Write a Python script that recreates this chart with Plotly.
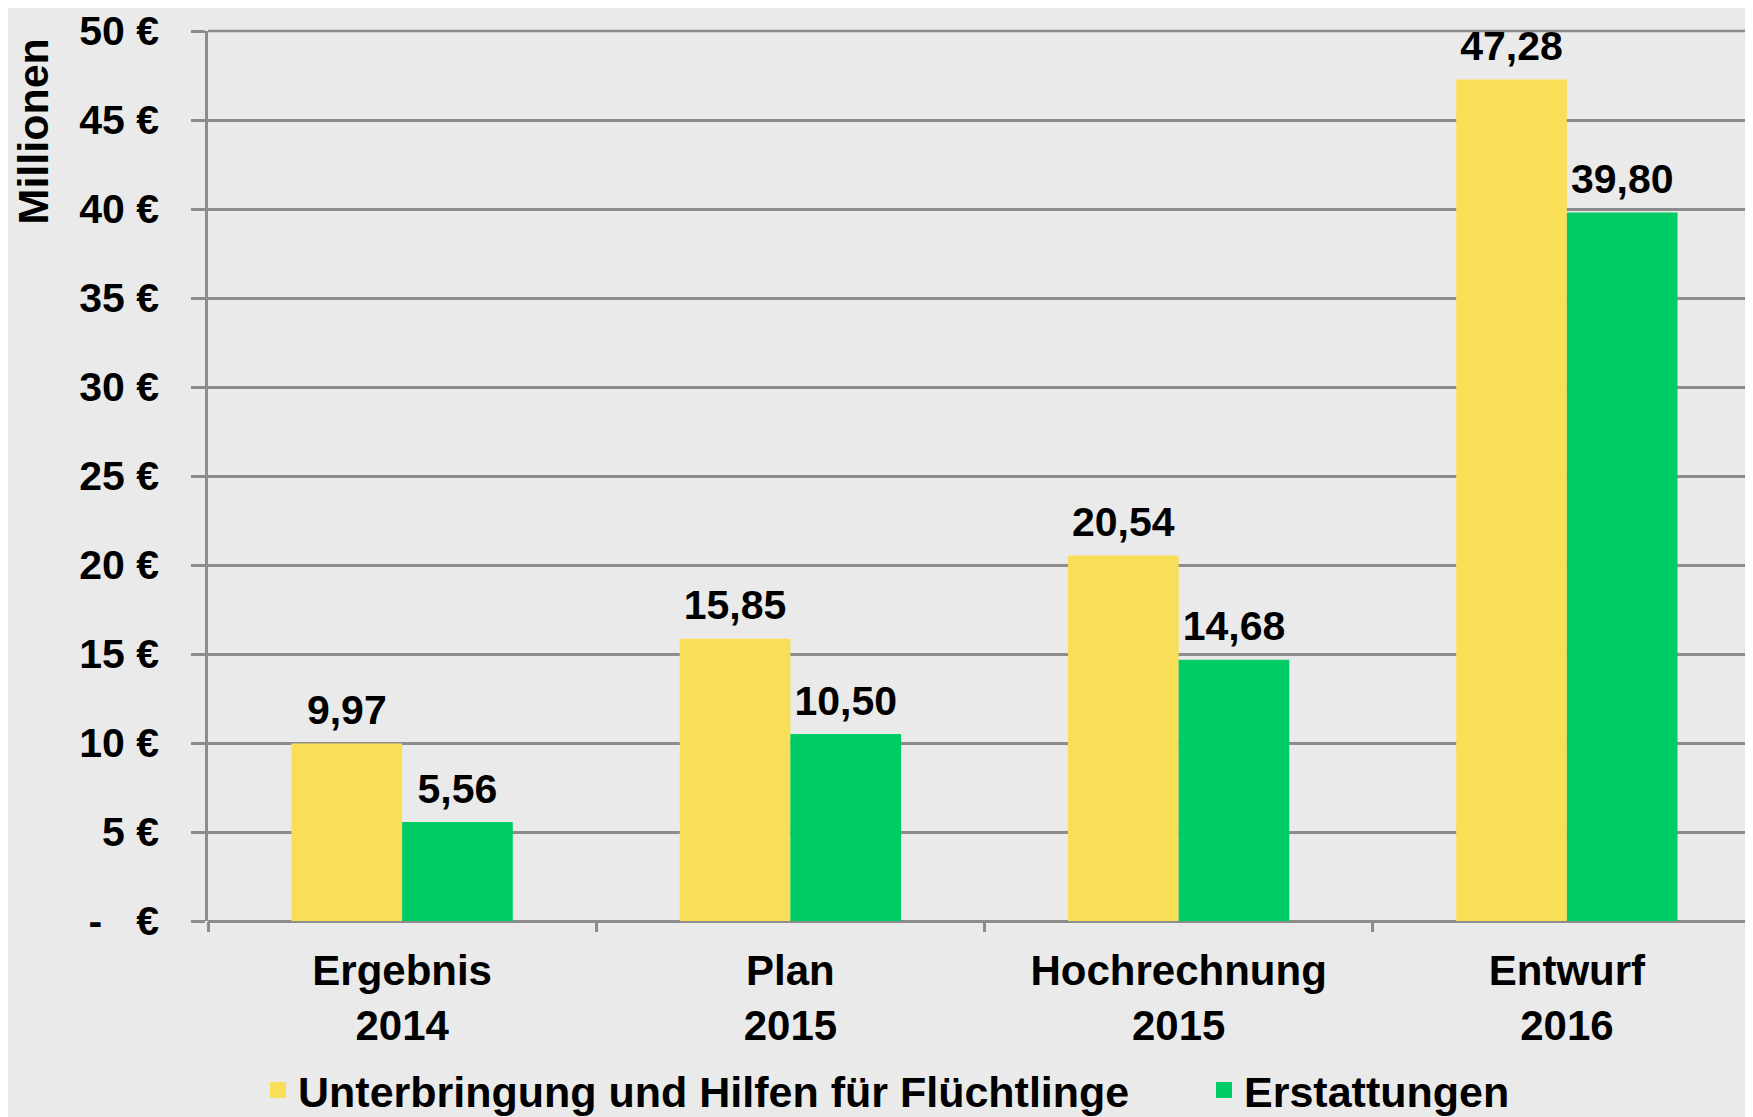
import plotly.graph_objects as go

categories = ["Ergebnis<br>2014", "Plan<br>2015", "Hochrechnung<br>2015", "Entwurf<br>2016"]
unterbringung = [9.97, 15.85, 20.54, 47.28]
erstattungen = [5.56, 10.50, 14.68, 39.80]
series_names = ["Unterbringung und Hilfen für Flüchtlinge", "Erstattungen"]
ytick_vals = [0, 5, 10, 15, 20, 25, 30, 35, 40, 45, 50]
ytick_text = ["-\u00a0\u00a0\u00a0€", "5 €", "10 €", "15 €", "20 €", "25 €", "30 €", "35 €", "40 €", "45 €", "50 €"]

YELLOW = "#F9DF57"
GREEN = "#00CC66"
GRID = "#8C8C8C"
BG = "#EAEAEA"
FONT = "Liberation Sans, Arial, sans-serif"

W, H = 1753, 1117
ML, MT, MB = 200, 20, 202
PW = W - ML
PH = H - MT - MB

fig = go.Figure()
series = [(series_names[0], unterbringung, YELLOW, "legend"),
          (series_names[1], erstattungen, GREEN, "legend2")]
for i, (name, vals, col, leg) in enumerate(series):
    fig.add_trace(go.Bar(
        x=categories, y=vals, name=name, marker=dict(color=col, line=dict(width=0)),
        offsetgroup=str(i), showlegend=False, hoverinfo="skip",
    ))
    fig.add_trace(go.Scatter(
        x=categories, y=vals, mode="markers+text", name=name,
        offsetgroup=str(i), texttemplate="%{y:.2f}", textposition="top center",
        marker=dict(size=13, color="rgba(0,0,0,0)"), cliponaxis=False,
        textfont=dict(family=FONT, size=41, color="black", weight="bold"),
        showlegend=False, hoverinfo="skip",
    ))
    fig.add_trace(go.Scatter(
        x=[None], y=[None], mode="markers", name=name, legend=leg,
        marker=dict(symbol="square", size=16, color=col), showlegend=True,
    ))

legend_common = dict(orientation="h", xanchor="left", y=-170 / PH, yanchor="middle",
                     font=dict(family=FONT, size=43, color="black", weight="bold"),
                     bgcolor="rgba(0,0,0,0)", itemclick=False, itemdoubleclick=False)

fig.update_layout(
    width=W, height=H,
    paper_bgcolor=BG, plot_bgcolor=BG,
    margin=dict(l=ML, r=0, t=MT, b=MB),
    separators=",.",
    barmode="group", bargap=0.43, bargroupgap=0,
    scattermode="group", scattergap=0.43,
    font=dict(family=FONT, size=40, color="black", weight="bold"),
    showlegend=True,
    legend=dict(x=50 / PW, **legend_common),
    legend2=dict(x=996 / PW, **legend_common),
    xaxis=dict(range=[-0.5, 3.5], tickson="boundaries", ticks="outside", ticklen=10,
               tickcolor=GRID, tickwidth=2.5, showline=False, showgrid=False,
               ticklabelstandoff=21,
               tickfont=dict(family=FONT, size=42, color="black", weight="bold")),
    yaxis=dict(range=[0, 50], tickvals=ytick_vals, ticktext=ytick_text,
               ticks="outside", ticklen=14, tickcolor=GRID, tickwidth=2.5,
               showgrid=True, gridcolor=GRID, gridwidth=2.5,
               showline=True, linecolor=GRID, linewidth=2.5,
               zeroline=True, zerolinecolor=GRID, zerolinewidth=2.5,
               ticklabelstandoff=24, ticklabeloverflow="allow",
               tickfont=dict(family=FONT, size=41, color="black", weight="bold")),
)

# top gridline at the upper edge of the plot (plotly drops gridlines lying on the edge)
fig.add_shape(type="line", xref="paper", x0=0, x1=1, yref="paper", y0=1, y1=1,
              line=dict(color=GRID, width=2.5), layer="below")

fig.add_annotation(text="Millionen", xref="paper", yref="paper", x=-175 / PW, y=1 - 101 / PH,
                   xanchor="center", yanchor="middle", textangle=-90, showarrow=False,
                   font=dict(family=FONT, size=43, color="black", weight="bold"))

fig.write_html("out.html")
